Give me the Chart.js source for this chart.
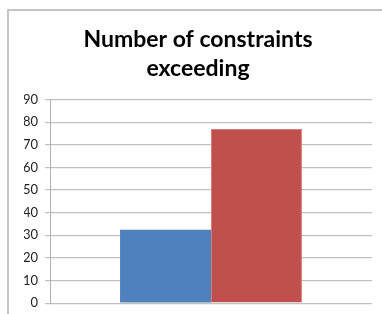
<!DOCTYPE html>
<html>
<head>
<meta charset="utf-8">
<script src="https://cdn.jsdelivr.net/npm/chart.js@4"></script>
<style>
  html, body { margin: 0; padding: 0; background: #fff; overflow: hidden; }
  #box {
    position: absolute; left: 7px; top: 9px;
    width: 373px; height: 307px;
    border-left: 2px solid #c4c4c4; border-top: 2px solid #c4c4c4;
  }
</style>
</head>
<body>
<div id="box"><canvas id="chart" width="373" height="307"></canvas></div>
<script>
const categories = [""];
const seriesNames = ["Series1", "Series2"];
const blueValues = [32.5];
const redValues = [77];
const yTicks = [0, 10, 20, 30, 40, 50, 60, 70, 80, 90];
const titleLines = ["Number of constraints", "exceeding"];

const ctx = document.getElementById("chart").getContext("2d");
const myChart = new Chart(ctx, {
  type: "bar",
  data: {
    labels: categories,
    datasets: [
      {
        label: seriesNames[0],
        data: blueValues,
        backgroundColor: "#4f81bd",
        borderWidth: 0,
      },
      {
        label: seriesNames[1],
        data: redValues,
        backgroundColor: "#c0504d",
        borderColor: "#d47d7a",
        borderWidth: 1,
      },
    ],
  },
  options: {
    responsive: false,
    animation: false,
    categoryPercentage: 0.565,
    barPercentage: 1,
    layout: { padding: { left: 15, right: 10, top: 0, bottom: 0 } },
    plugins: {
      legend: { display: false },
      tooltip: { enabled: false },
      title: {
        display: true,
        text: titleLines,
        color: "#000",
        font: { family: "Lato", size: 23, weight: "bold", lineHeight: 1.25 },
        padding: { top: 14, bottom: 17 },
      },
    },
    scales: {
      x: {
        display: false,
      },
      y: {
        min: yTicks[0],
        max: yTicks[yTicks.length - 1],
        afterFit: (scale) => { scale.width = 26; },
        afterBuildTicks: (scale) => { scale.ticks = yTicks.map((v) => ({ value: v })); },
        ticks: {
          color: "#222",
          padding: 7,
          font: { family: "Lato", size: 13 },
        },
        grid: { color: "#c0c0c0", lineWidth: 1.2, tickLength: 5 },
        border: { display: true, color: "#b0b0b0" },
      },
    },
  },
});
</script>
</body>
</html>
